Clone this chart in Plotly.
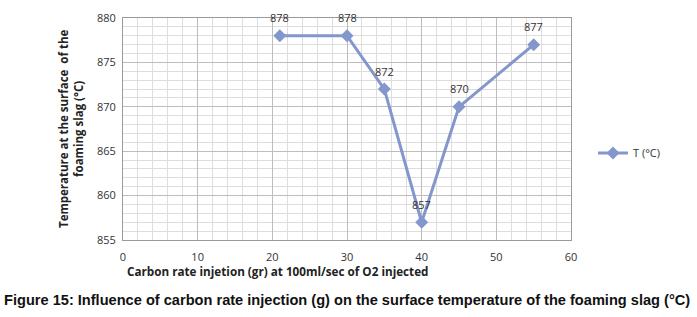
import plotly.graph_objects as go

carbon = [21, 30, 35, 40, 45, 55]
temperature = [878, 878, 872, 857, 870, 877]
labels = [str(v) for v in temperature]
series_name = "T (°C)"

line_color = "#8497cc"
tick_font = dict(family="Open Sans, DejaVu Sans", size=11, color="#333333")

L, R, T, B = 123, 571, 18, 240
W, H = 697, 317

fig = go.Figure()
fig.add_trace(go.Scatter(
    x=carbon, y=temperature, name=series_name,
    mode="lines+markers",
    line=dict(color=line_color, width=3),
    marker=dict(symbol="diamond", size=10, color=line_color),
    cliponaxis=False,
))

annotations = []
for xv, yv, lab in zip(carbon, temperature, labels):
    annotations.append(dict(
        x=xv, y=yv, xref="x", yref="y", text=lab, showarrow=False,
        yshift=18, font=dict(family="Open Sans, DejaVu Sans", size=11, color="#333333"),
    ))

annotations.append(dict(
    text="<b>Carbon rate injetion (gr) at 100ml/sec of O2 injected</b>",
    xref="paper", yref="paper", x=(278 - L) / (R - L), y=-(271 - B) / (B - T),
    xanchor="center", yanchor="middle", showarrow=False,
    font=dict(family="Open Sans, DejaVu Sans", size=11.7, color="#222222"),
))
annotations.append(dict(
    text="<b>Temperature at the surface  of the<br>foaming slag (°C)</b>",
    xref="paper", yref="paper", x=-(L - 71) / (R - L), y=(B - 129) / (B - T),
    xanchor="center", yanchor="middle", showarrow=False, textangle=-90,
    font=dict(family="Open Sans, DejaVu Sans", size=11.5, color="#222222"),
))
annotations.append(dict(
    text="<b>Figure 15: Influence of carbon rate injection (g) on the surface temperature of the foaming slag (°C)</b>",
    xref="paper", yref="paper", x=(347 - L) / (R - L), y=-(300 - B) / (B - T),
    xanchor="center", yanchor="middle", showarrow=False,
    font=dict(family="Liberation Sans, Arial", size=14.6, color="#111111"),
))

fig.update_layout(
    width=W, height=H,
    margin=dict(l=L, r=W - R, t=T, b=H - B, autoexpand=False),
    plot_bgcolor="white", paper_bgcolor="white",
    showlegend=True,
    legend=dict(x=(593 - L) / (R - L), y=(B - 153) / (B - T), xanchor="left", yanchor="middle",
                font=dict(family="Open Sans, DejaVu Sans", size=11, color="#333333"),
                bgcolor="rgba(0,0,0,0)", itemwidth=30),
    xaxis=dict(
        range=[0, 60], dtick=10, tick0=0,
        showgrid=True, gridcolor="#bdbdbd", gridwidth=1,
        minor=dict(dtick=2, showgrid=True, gridcolor="#dddddd", gridwidth=1),
        showline=True, linecolor="#9a9a9a", linewidth=1, mirror=True,
        zeroline=False, automargin=False,
        ticks="outside", ticklen=7, tickcolor="rgba(0,0,0,0)", tickfont=tick_font,
    ),
    yaxis=dict(
        range=[855, 880], dtick=5, tick0=855,
        showgrid=True, gridcolor="#bdbdbd", gridwidth=1,
        minor=dict(dtick=1, showgrid=True, gridcolor="#dddddd", gridwidth=1),
        showline=True, linecolor="#9a9a9a", linewidth=1, mirror=True,
        zeroline=False, automargin=False,
        ticks="outside", ticklen=4, tickcolor="rgba(0,0,0,0)", tickfont=tick_font,
    ),
    annotations=annotations,
)

fig.write_html("out.html", config={"displayModeBar": False},
               post_script="document.body.style.margin='0';document.body.style.padding='0';")
